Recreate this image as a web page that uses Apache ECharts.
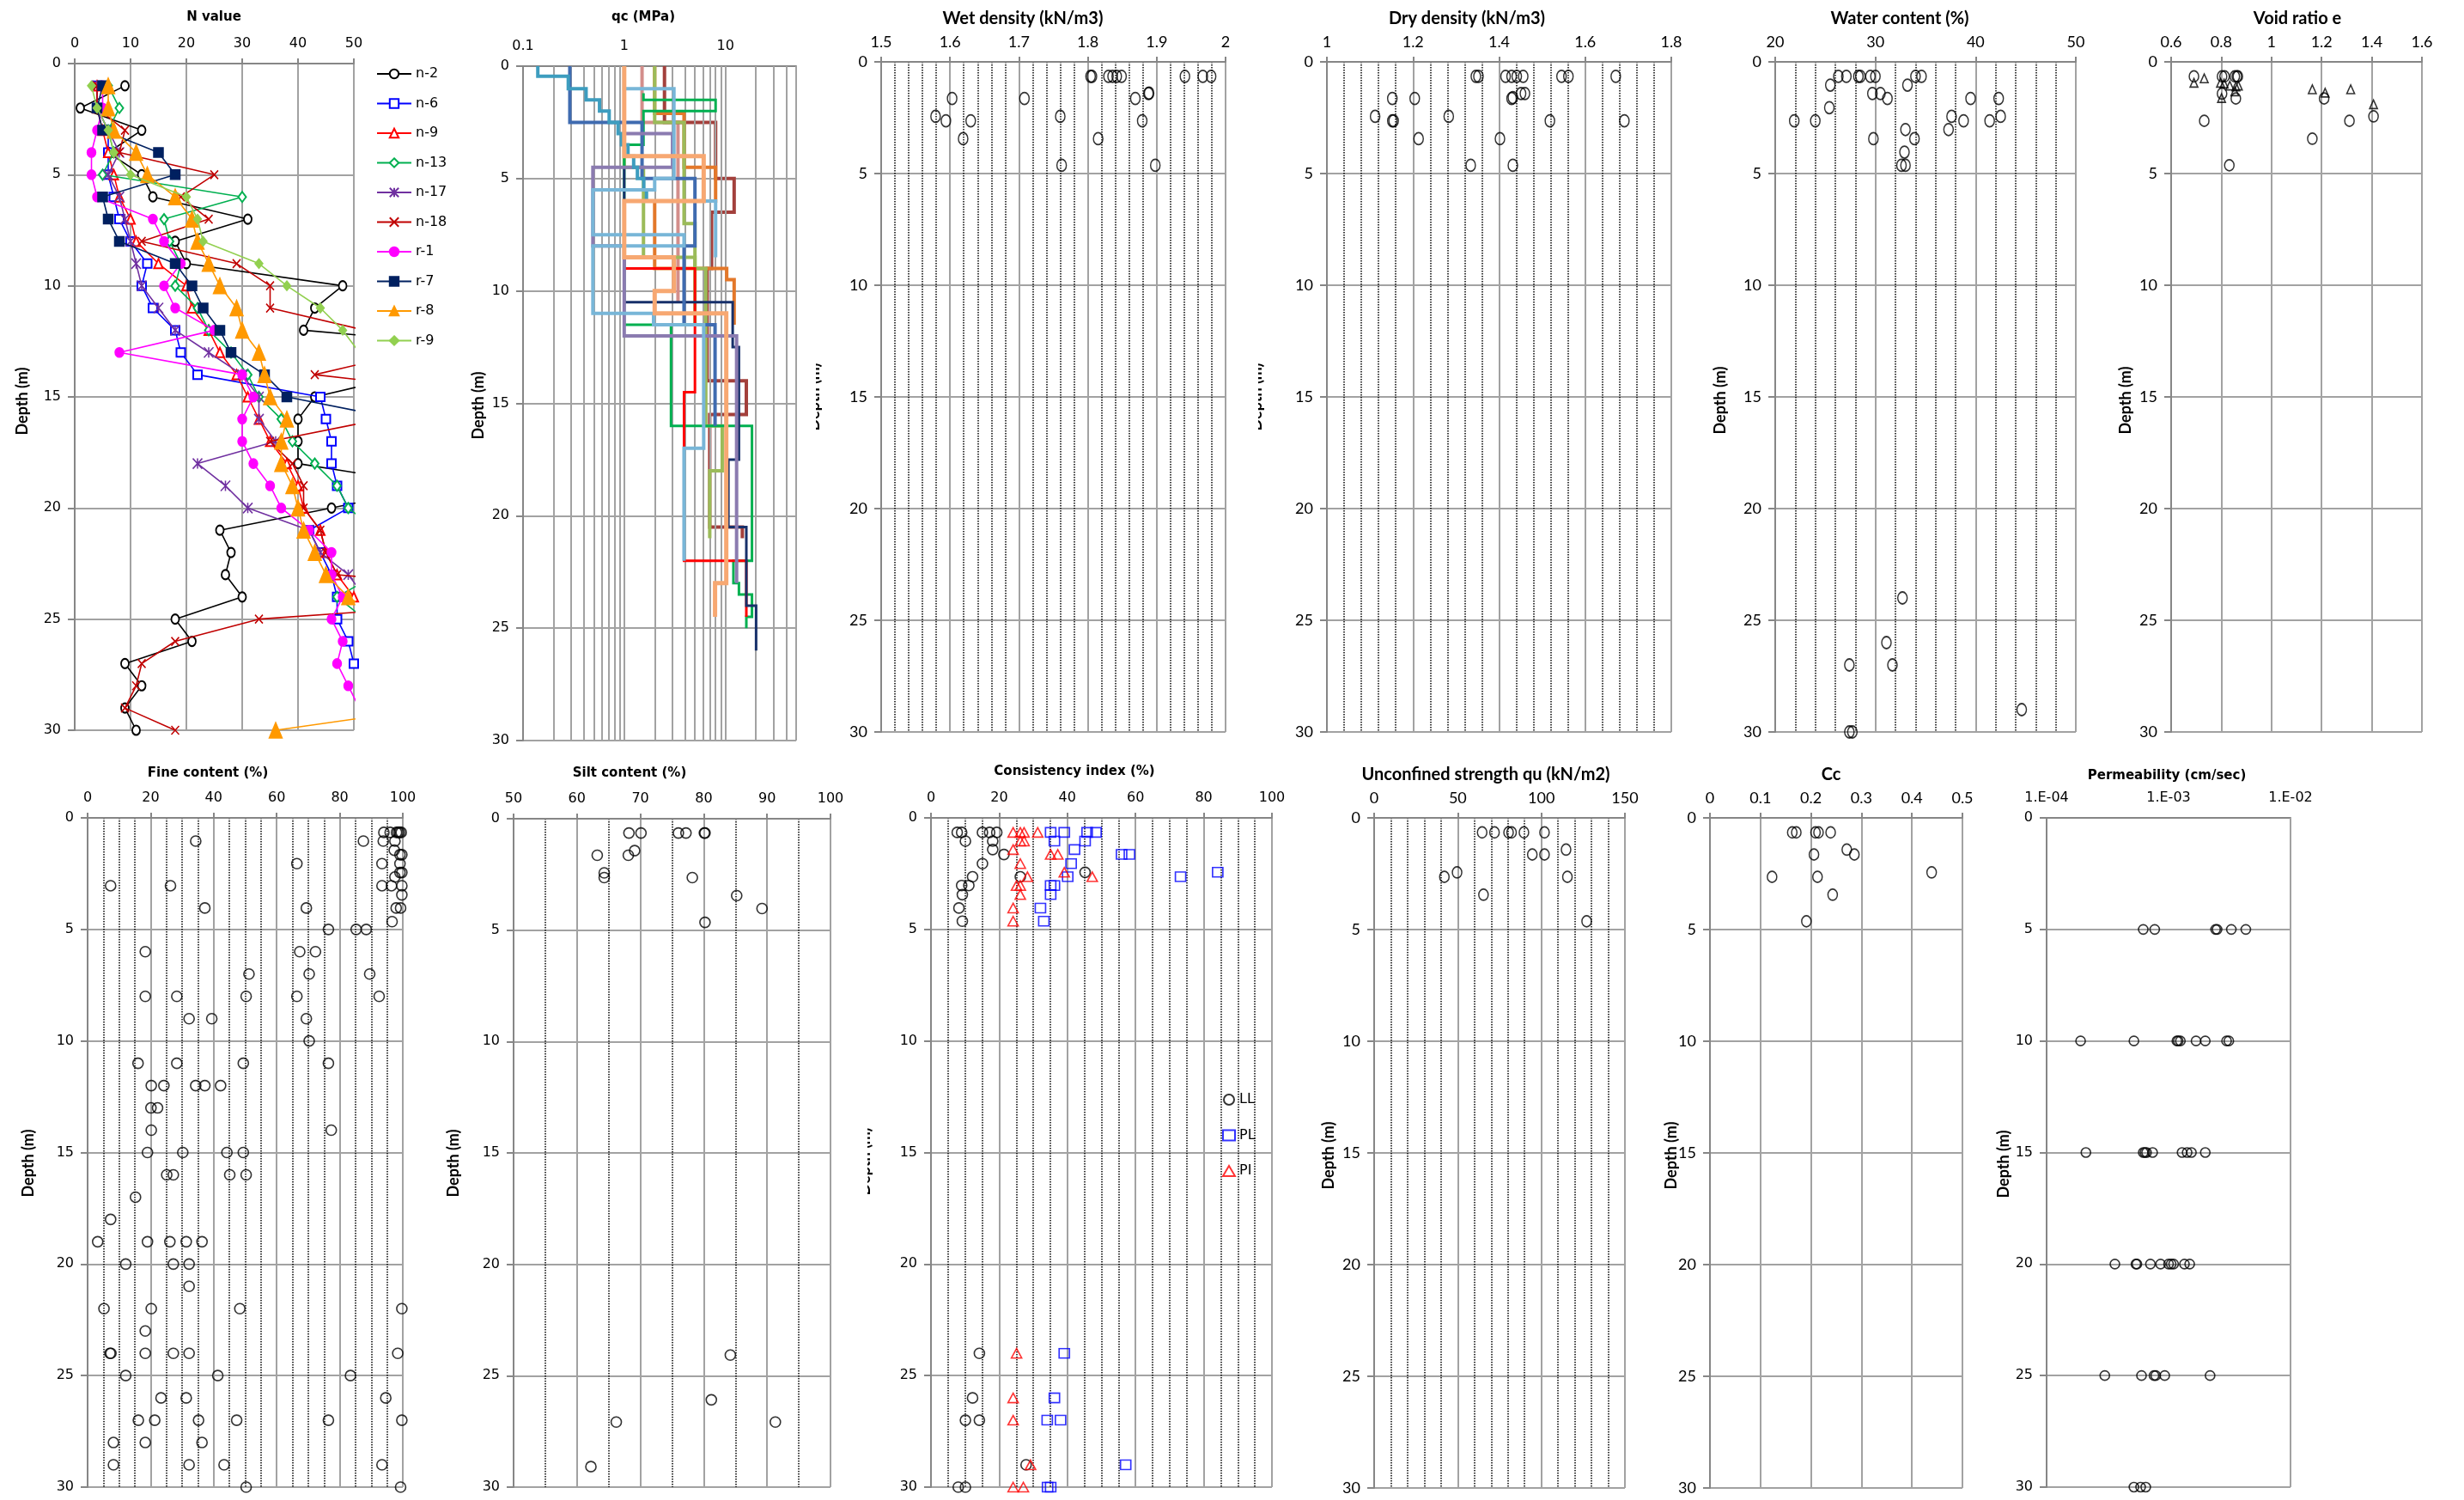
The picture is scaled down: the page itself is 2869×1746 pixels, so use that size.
<!DOCTYPE html>
<html><head><meta charset="utf-8">
<script src="https://cdn.jsdelivr.net/npm/echarts@6/dist/echarts.min.js"></script>
<style>html,body{margin:0;padding:0;background:#fff}#c{width:2869px;height:1746px}</style>
</head><body><div id="c"></div>
<script>
// ================= DATA =================
// N value (SPT) profiles, depth 1..30 m
const nDepth = [1,2,3,4,5,6,7,8,9,10,11,12,13,14,15,16,17,18,19,20,21,22,23,24,25,26,27,28,29,30];
const nNames = ['n-2','n-6','n-9','n-13','n-17','n-18','r-1','r-7','r-8','r-9'];
const n2  = [9,1,12,6,12,14,31,18,20,48,43,41,86,60,43,40,40,40,65,46,26,28,27,30,18,21,9,12,9,11];
const n6  = [4,4,6,6,6,7,8,10,13,12,14,18,19,22,44,45,46,46,47,49,42,44,46,47,47,49,50,null,null,null];
const n9  = [4,4,5,6,7,8,10,11,15,20,21,24,26,29,31,33,35,38,40,41,44,45,47,50,null,null,null,null,null,null];
const n13 = [6,8,6,7,5,30,16,17,19,18,22,24,28,31,33,37,39,43,47,49,54,55,54,47,52,null,null,null,null,null];
const n17 = [4,4,6,8,6,8,9,10,11,12,15,18,24,30,33,33,36,22,27,31,42,44,49,52,null,null,null,null,null,null];
const n18 = [4,4,9,8,25,19,24,12,29,35,35,52,60,43,78,55,35,39,41,41,44,45,47,90,33,18,12,11,9,18];
const r1  = [5,5,4,3,3,4,14,16,19,16,18,25,8,30,32,30,30,32,35,37,42,46,46,48,46,48,47,49,51,null];
const r7  = [5,4,5,15,18,5,6,8,18,21,23,26,28,34,38,58,null,null,null,null,null,null,null,null,null,null,null,null,null,null];
const r8  = [6,6,7,11,13,18,21,22,24,26,29,30,33,34,35,38,37,37,39,40,41,43,45,49,55,58,60,62,64,36];
const r9  = [3,4,6,7,10,20,22,23,33,38,44,48,51,null,null,null,null,null,null,null,null,null,null,null,null,null,null,null,null,null];

// qc (CPT) profiles: layer boundaries (m) and qc values (MPa)
const qcTealTop = [0,0.45,1.0,1.5,2.0,2.5,3.0,3.5,4.0,4.5,5.0,5.5,6.0];
const qcTealVal = [0.14,0.28,0.42,0.57,0.71,0.87,0.94,1.09,1.24,1.35,1.56,1.66];
const qcSteelTop = [0,2.5,5.0,8.0,11.5,16.0];
const qcSteelVal = [0.29,1.5,5.0,3.9,7.9];
const qcNavyTop = [4.5,10.5,12.5,17.5,20.5,24.0,26.0];
const qcNavyVal = [1.0,11.8,13.6,10.7,16.1,20.1];
const qcRedTop = [8.5,9.0,14.5,22.0,24.5];
const qcRedVal = [1.0,5.0,3.9,16.1];
const qcGreenTop = [1.2,1.5,2.0,3.5,11.5,16.0,22.0,23.0,23.5,24.5,25.0];
const qcGreenVal = [1.55,8.0,1.55,1.0,2.9,18.3,12.0,13.6,18.3,16.1];
const qcPurpleTop = [2.5,3.0,4.5,8.0,12.0,23.0];
const qcPurpleVal = [1.0,3.0,0.49,1.0,12.9];
const qcBrownTop = [0,2.5,5.0,6.5,9.0,14.0,15.5,20.5,21.0];
const qcBrownVal = [2.5,8.0,12.2,7.3,6.6,16.1,7.0,14.7];
const qcOrangeTop = [0,2.1,4.5,6.0,9.0,9.5,11.5];
const qcOrangeVal = [2.0,3.9,8.0,2.0,10.3,12.2];
const qcOliveATop = [0,2.5,7.0,9.0,16.0,18.0,21.0];
const qcOliveAVal = [2.0,3.9,5.0,6.4,9.3,7.0];
const qcOliveBTop = [3.0,4.5,8.5,11.5];
const qcOliveBVal = [1.0,1.55,5.0];
const qcLBlueTop = [0,1.0,5.0,5.5,7.5,8.0,11.0,11.5,17.0,22.0];
const qcLBlueVal = [1.0,3.1,2.0,0.49,3.9,0.49,1.95,6.1,3.9];
const qcLBlue2Top = [5.5,6.0,8.5];
const qcLBlue2Val = [6.1,8.0];
const qcSalmonTop = [0,4.0,6.0,8.5,10.0,11.0,23.0,24.5];
const qcSalmonVal = [1.0,6.1,1.0,3.1,2.0,10.2,7.9];
const qcPinkTop = [0,2.5,10.5];
const qcPinkVal = [1.5,3.4];
const qcMinorGrid = [0.2,0.3,0.4,0.5,0.6,0.7,0.8,0.9,1,2,3,4,5,6,7,8,9,10,20,30,40,50];

// Wet density
const wetDepth = [0.65,0.65,0.65,0.65,0.65,0.65,0.65,0.65,0.65,1.64,1.64,1.64,1.42,1.40,2.44,2.64,2.64,2.44,2.64,3.44,3.44,4.63,4.63];
const wetVal   = [1.804,1.806,1.830,1.836,1.842,1.849,1.941,1.967,1.979,1.603,1.708,1.869,1.888,1.889,1.579,1.594,1.630,1.760,1.879,1.619,1.815,1.762,1.898];
// Dry density
const dryDepth = [0.65,0.65,0.65,0.65,0.65,0.65,0.65,0.65,0.65,1.64,1.64,1.64,1.60,1.42,1.42,2.44,2.64,2.64,2.44,2.64,2.64,3.44,3.44,4.63,4.63];
const dryVal   = [1.346,1.352,1.415,1.429,1.441,1.456,1.545,1.561,1.671,1.152,1.204,1.429,1.432,1.451,1.460,1.112,1.152,1.155,1.283,1.518,1.691,1.213,1.402,1.334,1.432];
// Water content
const wcDepth = [0.65,0.65,0.65,0.65,0.65,0.65,0.65,0.65,1.04,1.04,1.42,1.42,1.64,1.64,1.64,2.05,2.44,2.44,2.64,2.64,2.64,2.64,3.03,3.03,3.44,3.44,4.04,4.63,4.63,24,26,27,27,29,30,30];
const wcVal   = [26.3,27.1,28.3,28.5,29.5,30.0,34.0,34.6,25.5,33.2,29.7,30.5,31.2,39.5,42.3,25.4,37.6,42.5,21.9,24.0,38.8,41.4,33.0,37.3,29.8,33.9,32.9,32.6,33.0,32.7,31.1,27.4,31.7,44.6,27.4,27.7];
// Void ratio (circles and triangles)
const eDepth  = [0.65,0.65,0.65,0.65,0.65,0.65,1.42,1.64,1.64,2.64,2.64,2.44,3.44,4.63];
const eVal    = [0.691,0.803,0.813,0.854,0.862,0.866,0.803,0.858,1.21,0.732,1.311,1.407,1.163,0.832];
const e2Depth = [0.94,0.74,0.94,0.97,1.06,1.10,1.06,1.32,1.62,1.23,1.38,1.23,1.90];
const e2Val   = [0.691,0.732,0.797,0.811,0.834,0.858,0.868,0.854,0.801,1.163,1.214,1.316,1.407];
// Fine content
const fineDepth = [0.65,0.65,0.65,0.65,0.65,0.65, 1.04,1.04,1.04,1.04, 1.45, 1.65,1.65, 2.05,2.05,2.05, 2.45,2.45, 2.65,
  3.04,3.04,3.04,3.04,3.04, 3.45, 4.04,4.04,4.04,4.04, 4.65, 5,5,5, 6,6,6, 7,7,7, 8,8,8,8,8, 9,9,9, 10,
  11,11,11,11, 12,12,12,12,12, 13,13, 14,14, 15,15,15,15, 16,16,16,16, 17, 18, 19,19,19,19,19, 20,20,20, 21,
  22,22,22,22, 23, 24,24,24,24,24,24, 25,25,25, 26,26,26, 27,27,27,27,27,27, 28,28,28, 29,29,29,29, 30,30];
const fineVal = [94,96,98,98.5,99,99.5, 34.3,87.5,93.8,97.5, 97.3, 99.1,99.7, 66.4,93.4,99.1, 99.1,99.7, 97.5,
  7.3,26.3,93.4,96.4,99.7, 99.7, 37.2,69.4,97.9,99.3, 96.6, 76.4,85.2,88.4, 18.3,67.3,72.3, 51.2,70.3,89.5, 18.3,28.3,50.3,66.4,92.5, 32.2,39.4,69.4, 70.3,
  16.0,28.3,49.4,76.4, 20.2,24.2,34.3,37.2,42.2, 20.1,22.2, 20.2,77.3, 19.0,30.2,44.2,49.4, 25.1,27.2,45.1,50.3, 15.2, 7.3, 3.2,19.0,26.1,31.3,36.3, 12.1,27.2,32.2, 32.2,
  5.2,20.2,48.3,99.7, 18.3, 7.1,7.4,18.3,27.2,32.2,98.4, 12.1,41.3,83.4, 23.3,31.3,94.6, 16.1,21.3,35.2,47.3,76.4,99.7, 8.2,18.3,36.3, 8.2,32.2,43.3,93.4, 50.3,99.3];
// Silt content
const siltDepth = [0.64,0.64,0.64,0.64,0.64,0.64,1.43,1.64,1.64,2.43,2.64,2.64,3.45,4.03,4.65,24.07,26.08,27.08,27.08,29.08];
const siltVal   = [68.2,70.1,76.0,77.2,80.1,80.2,69.1,63.2,68.1,64.3,64.3,78.2,85.2,89.2,80.2,84.2,81.2,66.2,91.3,62.2];
// Consistency index
const llDepth = [0.65,0.65,0.65,0.65,0.65,1.04,1.04,1.42,1.64,2.05,2.44,2.64,2.64,3.03,3.03,3.44,4.04,4.63,24,26,27,27,29,30,30];
const llVal   = [7.7,9.0,15.1,17.2,19.3,10.1,18.1,18.1,21.4,15.1,45.2,12.2,26.2,9.0,11.1,9.2,8.2,9.2,14.2,12.2,10.1,14.2,27.9,8.0,10.1];
const plDepth = [0.65,0.65,0.65,0.65,1.04,1.04,1.42,1.64,1.64,2.05,2.44,2.64,2.64,3.03,3.03,3.44,4.04,4.63,24,26,27,27,29,30,30];
const plVal   = [35.1,39.1,45.8,48.4,36.2,45.2,42.1,55.9,58.2,41.1,84.1,40.1,73.2,35.1,36.2,35.1,32.1,33.1,39.1,36.2,34.1,38.0,57.1,34.2,35.1];
const piDepth = [0.65,0.65,0.65,0.65,1.04,1.04,1.42,1.64,1.64,2.05,2.44,2.64,2.64,3.03,3.03,3.44,4.04,4.63,24,26,27,29,30,30];
const piVal   = [24.1,26.2,27.3,31.3,26.2,27.3,24.1,35.1,37.2,26.2,39.1,28.3,47.3,25.1,26.2,26.2,24.1,24.1,25.1,24.1,24.1,29.2,24.1,27.1];
// Unconfined strength
const quDepth = [0.65,0.65,0.65,0.65,0.65,0.65,1.42,1.64,1.64,2.44,2.64,2.64,3.44,4.63];
const quVal   = [64.6,72.0,80.4,82.2,89.6,101.9,114.8,94.6,101.9,49.6,42.0,115.6,65.4,127.1];
// Cc
const ccDepth = [0.65,0.65,0.65,0.65,0.65,1.42,1.64,1.64,2.64,2.64,2.44,3.44,4.63];
const ccVal   = [0.163,0.171,0.209,0.215,0.239,0.271,0.286,0.206,0.123,0.213,0.439,0.243,0.191];
// Permeability
const kDepth = [5,5,5,5,5,5, 10,10,10,10,10,10,10,10,10, 15,15,15,15,15,15,15,15,15, 20,20,20,20,20,20,20,20,20,20, 25,25,25,25,25,25, 30,30,30];
const kVal   = [6.2e-4,7.7e-4,2.43e-3,2.5e-3,3.27e-3,4.3e-3,
  1.9e-4,5.2e-4,1.17e-3,1.2e-3,1.25e-3,1.68e-3,2.0e-3,2.99e-3,3.12e-3,
  2.1e-4,6.2e-4,6.4e-4,6.6e-4,7.4e-4,1.29e-3,1.42e-3,1.54e-3,2.0e-3,
  3.63e-4,5.4e-4,5.5e-4,7.1e-4,8.6e-4,1.0e-3,1.05e-3,1.1e-3,1.35e-3,1.49e-3,
  3.0e-4,6.0e-4,7.6e-4,7.85e-4,9.3e-4,2.19e-3,
  5.2e-4,5.9e-4,6.5e-4];
const kMinorGrid = [2e-4,3e-4,4e-4,5e-4,6e-4,7e-4,8e-4,9e-4,2e-3,3e-3,4e-3,5e-3,6e-3,7e-3,8e-3,9e-3];
const kMajorGrid = [1e-3,1e-2];

// ================= LAYOUT / STYLE =================
const DV = 'DejaVu Sans';
const CAL = 'Lato';
const AX = '#868686';
const GRID = '#A2A2A2';
const DOT = {color:'#000', width:1.5, type:[1.5,1.5]};

const P = [
 {L:87,  R:412,  T:74,  B:850, type:'value', min:0,   max:50,  interval:10,  minor:0, font:DV},
 {L:609, R:927,  T:77,  B:862, type:'log',   min:0.1, max:50,  font:DV},
 {L:1026,R:1427, T:72,  B:852, type:'value', min:1.5, max:2,   interval:0.1, minor:5, font:CAL},
 {L:1545,R:1946, T:72,  B:852, type:'value', min:1,   max:1.8, interval:0.2, minor:5, font:CAL},
 {L:2067,R:2417, T:72,  B:852, type:'value', min:20,  max:50,  interval:10,  minor:5, font:CAL},
 {L:2528,R:2820, T:72,  B:852, type:'value', min:0.6, max:1.6, interval:0.2, minor:0, font:CAL},
 {L:102, R:469,  T:952, B:1731,type:'value', min:0,   max:100, interval:20,  minor:4, font:DV},
 {L:598, R:967,  T:953, B:1731,type:'value', min:50,  max:100, interval:10,  minor:2, font:DV},
 {L:1084,R:1481, T:952, B:1731,type:'value', min:0,   max:100, interval:20,  minor:4, font:DV},
 {L:1600,R:1892, T:952, B:1732,type:'value', min:0,   max:150, interval:50,  minor:5, font:CAL},
 {L:1991,R:2285, T:952, B:1732,type:'value', min:0,   max:0.5, interval:0.1, minor:0, font:CAL},
 {L:2383,R:2667, T:952, B:1731,type:'log',   min:1e-4,max:1e-2, font:DV, sci:true},
];

function isPow10(v){ const l = Math.log10(v); return Math.abs(l - Math.round(l)) < 1e-6; }
function sciLabel(v){ const e = Math.round(Math.log10(v)); return '1.E' + (e < 0 ? '-' : '+') + String(Math.abs(e)).padStart(2,'0'); }

const grids = [], xAxes = [], yAxes = [];
P.forEach((p, i) => {
  grids.push({left:p.L, top:p.T, width:p.R - p.L, height:p.B - p.T, containLabel:false, outerBoundsMode:'none'});
  const fs = p.font === DV ? 16 : 18;
  const x = {
    gridIndex:i, type:p.type, position:'top', min:p.min, max:p.max,
    axisLine:{show:true, onZero:false, lineStyle:{color:AX, width:2}},
    axisTick:{show:true, inside:false, length:6, lineStyle:{color:AX, width:2}},
    axisLabel:{margin:p.font === DV ? 15 : 14, color:'#000', fontFamily:p.font, fontSize:fs, showMinLabel:true, showMaxLabel:true, hideOverlap:false},
    splitLine:{show:p.type !== 'log', lineStyle:{color:GRID, width:2}},
    minorTick:{show:false, splitNumber:p.minor || 5},
    minorSplitLine:{show:!!p.minor, lineStyle:DOT}
  };
  if (p.type === 'log') {
    x.logBase = 10;
    x.axisLabel.formatter = v => isPow10(v) ? (p.sci ? sciLabel(v) : String(+v.toPrecision(3))) : '';
    x.axisTick.show = false;
  } else {
    x.interval = p.interval;
  }
  xAxes.push(x);
  yAxes.push({
    gridIndex:i, type:'value', inverse:true, min:0, max:30, interval:5,
    axisLine:{show:true, onZero:false, lineStyle:{color:AX, width:2}},
    axisTick:{show:true, inside:false, length:8, lineStyle:{color:AX, width:2}},
    axisLabel:{margin:16, color:'#000', fontFamily:p.font, fontSize:fs, showMinLabel:true, showMaxLabel:true},
    splitLine:{show:true, lineStyle:{color:GRID, width:2}}
  });
});

const series = [];
// ---- N value lines
const starPath = 'path://M5,0 L5,10 M0,0 L10,10 M0,10 L10,0';
const xPath = 'path://M0,0 L10,10 M0,10 L10,0';
const nStyles = [
  {data:n2,  color:'#000000', symbol:'emptyCircle',   size:[9,11]},
  {data:n6,  color:'#0000FF', symbol:'emptyRect',     size:[10,10]},
  {data:n9,  color:'#FF0000', symbol:'emptyTriangle', size:[10,11]},
  {data:n13, color:'#00B050', symbol:'emptyDiamond',  size:[9,12]},
  {data:n17, color:'#7030A0', symbol:starPath,        size:[11,12], stroke:true},
  {data:n18, color:'#C00000', symbol:xPath,           size:[9,10],  stroke:true},
  {data:r1,  color:'#FF00FF', symbol:'circle',        size:[10,11]},
  {data:r7,  color:'#002060', symbol:'rect',          size:[11,11]},
  {data:r8,  color:'#FF9900', symbol:'triangle',      size:[15,18]},
  {data:r9,  color:'#92D050', symbol:'diamond',       size:[9,11]},
];
nStyles.forEach((s, k) => {
  const pts = [];
  nDepth.forEach((d, j) => { if (s.data[j] != null) pts.push([s.data[j], d]); });
  series.push({
    name:nNames[k], type:'line', xAxisIndex:0, yAxisIndex:0, data:pts, clip:true,
    symbol:s.symbol, symbolSize:s.size, showSymbol:true, z:3 + k,
    lineStyle:{color:s.color, width:1.6},
    itemStyle: s.stroke ? {color:'rgba(0,0,0,0)', borderColor:s.color, borderWidth:1.6}
                        : {color:s.color, borderColor:s.color, borderWidth:1.5},
    emphasis:{disabled:true}, animation:false
  });
});

// ---- qc step profiles
function steps(tops, vals){ const pts = []; for (let i = 0; i < vals.length; i++){ pts.push([vals[i], tops[i]]); pts.push([vals[i], tops[i+1]]); } return pts; }
series.push({type:'line', xAxisIndex:1, yAxisIndex:1, data:[], silent:true, z:1,
  markLine:{silent:true, animation:false, symbol:['none','none'], label:{show:false}, emphasis:{disabled:true},
    lineStyle:{color:GRID, width:2, type:'solid'}, data:qcMinorGrid.map(v => ({xAxis:v}))}});
const qcProfiles = [
  [qcPinkTop, qcPinkVal, '#D38E8B', 4],
  [qcBrownTop, qcBrownVal, '#A3403C', 4],
  [qcOrangeTop, qcOrangeVal, '#E3782A', 4],
  [qcOliveATop, qcOliveAVal, '#9BBB59', 4],
  [qcOliveBTop, qcOliveBVal, '#9BBB59', 4],
  [qcGreenTop, qcGreenVal, '#00B050', 3],
  [qcRedTop, qcRedVal, '#FF0000', 3],
  [qcNavyTop, qcNavyVal, '#17306A', 3],
  [qcSteelTop, qcSteelVal, '#3F6BB0', 4],
  [qcPurpleTop, qcPurpleVal, '#8B7BB0', 4],
  [qcTealTop, qcTealVal, '#3D9DBF', 4],
  [qcLBlueTop, qcLBlueVal, '#78B6D8', 4],
  [qcLBlue2Top, qcLBlue2Val, '#78B6D8', 4],
  [qcSalmonTop, qcSalmonVal, '#F7A872', 5],
];
qcProfiles.forEach((q, k) => {
  series.push({type:'line', xAxisIndex:1, yAxisIndex:1, data:steps(q[0], q[1]), clip:true,
    symbol:'none', showSymbol:false, z:3 + k, lineStyle:{color:q[2], width:q[3], join:'miter'},
    emphasis:{disabled:true}, silent:true, animation:false});
});

// ---- scatter helper
function pairs(vals, depths){ return vals.map((v, j) => [v, depths[j]]); }
function sc(idx, vals, depths, opts){
  opts = opts || {};
  series.push({
    name:opts.name || ('s' + series.length), type:'scatter', xAxisIndex:idx, yAxisIndex:idx,
    data:pairs(vals, depths), symbol:opts.symbol || 'circle', symbolSize:opts.size || 12, z:5,
    itemStyle:{color:'rgba(255,255,255,0)', borderColor:opts.color || '#000', borderWidth:1.6},
    emphasis:{disabled:true}, silent:true, animation:false
  });
}
sc(2, wetVal, wetDepth, {size:[11,14]});
sc(3, dryVal, dryDepth, {size:[11,14]});
sc(4, wcVal, wcDepth, {size:[11,14]});
sc(5, eVal, eDepth, {size:[11,13]});
sc(5, e2Val, e2Depth, {symbol:'triangle', size:[9,10]});
sc(6, fineVal, fineDepth, {size:12});
sc(7, siltVal, siltDepth, {size:12});
sc(8, llVal, llDepth, {name:'LL', size:12});
sc(8, plVal, plDepth, {name:'PL', symbol:'rect', size:[12,11], color:'#0000FF'});
sc(8, piVal, piDepth, {name:'PI', symbol:'triangle', size:[12,11], color:'#FF0000'});
sc(9, quVal, quDepth, {size:[11,13]});
sc(10, ccVal, ccDepth, {size:[11,13]});
series.push({type:'line', xAxisIndex:11, yAxisIndex:11, data:[], silent:true, z:1,
  markLine:{silent:true, animation:false, symbol:['none','none'], label:{show:false}, emphasis:{disabled:true},
    lineStyle:DOT, data:kMinorGrid.map(v => ({xAxis:v}))}});
series.push({type:'line', xAxisIndex:11, yAxisIndex:11, data:[], silent:true, z:1,
  markLine:{silent:true, animation:false, symbol:['none','none'], label:{show:false}, emphasis:{disabled:true},
    lineStyle:{color:GRID, width:2, type:'solid'}, data:kMajorGrid.map(v => ({xAxis:v}))}});
sc(11, kVal, kDepth, {size:[11,11]});

// ---- texts
const titles = [
  ['N value', 249, 20, DV], ['qc (MPa)', 749, 20, DV],
  ['Wet density (kN/m3)', 1191, 22, CAL], ['Dry density (kN/m3)', 1708, 22, CAL],
  ['Water content (%)', 2212, 22, CAL], ['Void ratio e', 2675, 22, CAL],
  ['Fine content (%)', 242, 900, DV], ['Silt content (%)', 733, 900, DV],
  ['Consistency index (%)', 1251, 898, DV], ['Unconfined strength qu (kN/m2)', 1730, 902, CAL],
  ['Cc', 2132, 902, CAL], ['Permeability (cm/sec)', 2523, 903, DV]
];
const depthTitles = [[26,467],[557,472],[948,462],[1463,462],[2003,466],[2475,466],[33,1354],[528,1354],[1007,1352],[1547,1345],[1946,1345],[2333,1355]];
const graphic = [];
titles.forEach(t => graphic.push({type:'text', x:t[1], y:t[2], z:50, silent:true,
  style:{text:t[0], fill:'#000', font:(t[3] === DV ? 'bold 15px "DejaVu Sans"' : 'bold 20px Lato'), align:'center', verticalAlign:'middle'}}));
depthTitles.forEach(d => graphic.push({type:'text', x:d[0], y:d[1], rotation:Math.PI/2, z:50, silent:true,
  style:{text:'Depth (m)', fill:'#000', font:'bold 18px Lato', align:'center', verticalAlign:'middle'}}));
// covers that clip partially hidden axis titles (as in the reference)
[[930,380,20,180],[1432,380,33,180],[972,1260,38,180]].forEach(r => graphic.push({type:'rect', z:60, silent:true,
  shape:{x:r[0], y:r[1], width:r[2], height:r[3]}, style:{fill:'#fff'}}));

const option = {
  backgroundColor:'#fff', animation:false,
  grid:grids, xAxis:xAxes, yAxis:yAxes, series:series, graphic:graphic,
  legend:[
    {data:nNames, orient:'vertical', left:433, top:73, itemWidth:40, itemHeight:13, itemGap:18.5,
     selectedMode:false, textStyle:{fontFamily:DV, fontSize:16, color:'#000'}},
    {data:['LL','PL','PI'], orient:'vertical', left:1418, top:1267, itemWidth:14, itemHeight:12, itemGap:25.5,
     selectedMode:false, textStyle:{fontFamily:DV, fontSize:16, color:'#000'}}
  ]
};
const chart = echarts.init(document.getElementById('c'), null, {renderer:'canvas'});
chart.setOption(option);
</script></body></html>
